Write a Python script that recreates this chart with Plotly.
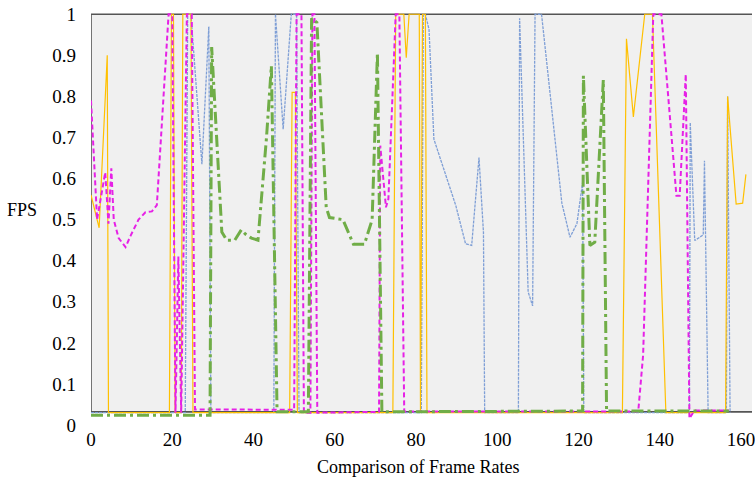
import plotly.graph_objects as go

# Frame index / normalised FPS breakpoints for each capture method
frames_blue = [0, 23.2, 23.8, 24.6, 27.3, 29.0, 29.5, 45.0, 45.4, 47.3, 49.3, 50.6, 51.2,
               81.3, 81.8, 82.3, 83.2, 84.4, 89.8, 92.2, 93.7, 95.5, 96.6, 96.9,
               105.2, 105.5, 107.6, 108.7, 109.3, 110.9, 115.9, 117.9, 119.6, 121.0, 121.3,
               147.3, 147.5, 148.6, 150.7, 151.0, 151.9, 156.4, 156.7, 157.3]
fps_blue = [0.03, 0.03, 1.0, 1.0, 0.635, 0.97, 0.03, 0.03, 1.0, 0.72, 1.0, 1.0, 0.03,
            0.03, 1.0, 1.0, 0.963, 0.696, 0.534, 0.441, 0.437, 0.651, 0.469, 0.03,
            0.03, 0.99, 0.324, 0.29, 1.0, 1.0, 0.54, 0.457, 0.49, 0.59, 0.03,
            0.03, 0.736, 0.449, 0.463, 0.643, 0.03, 0.03, 0.80, 0.03]

frames_orange = [0, 2.0, 4.0, 4.3, 19.3, 19.8, 20.3, 20.7, 22.2, 22.6, 24.6, 25.1,
                 48.9, 49.5, 50.3, 50.8, 74.3, 75.0, 77.0, 77.6, 78.3, 80.8, 81.1, 81.6, 82.3, 82.7,
                 130.8, 131.8, 133.5, 135.5, 136.3, 138.2, 141.5, 156.2, 156.7, 158.8, 160.4, 161.2]
fps_orange = [0.56, 0.48, 0.90, 0.03, 0.03, 1.0, 1.0, 0.03, 0.03, 1.0, 1.0, 0.03,
              0.03, 0.81, 0.81, 0.03, 0.03, 1.0, 1.0, 0.894, 1.0, 1.0, 0.03, 1.0, 1.0, 0.03,
              0.03, 0.94, 0.75, 0.93, 1.0, 1.0, 0.03, 0.03, 0.80, 0.538, 0.54, 0.61]

frames_magenta = [0, 1.5, 3.5, 4.3, 5.0, 5.6, 6.8, 8.5, 9.7, 11.7, 13.4, 15.0, 16.2, 19.1, 20.0,
                  20.8, 21.5, 22.2, 23.6, 24.8, 25.6, 50.0, 50.6, 51.8, 52.4, 54.0, 54.5, 55.0, 55.7,
                  70.9, 71.2, 72.6, 73.2, 75.0, 75.9, 77.1, 134.7, 135.9, 138.4, 140.4,
                  144.1, 144.9, 146.4, 147.3, 148.5, 157.0]
fps_magenta = [0.79, 0.50, 0.615, 0.49, 0.625, 0.50, 0.455, 0.433, 0.46, 0.50, 0.518, 0.52, 0.535, 1.0, 1.0,
               0.03, 0.41, 0.03, 1.0, 1.0, 0.038, 0.037, 1.0, 1.0, 0.03, 0.03, 1.0, 1.0, 0.03,
               0.032, 0.68, 0.53, 0.55, 1.0, 1.0, 0.033, 0.033, 0.17, 1.0, 1.0,
               0.558, 0.558, 0.854, 0.016, 0.035, 0.035]

frames_green = [0, 29.3, 29.7, 32.2, 33.4, 35.4, 37.0, 38.0, 39.5, 41.1, 43.2, 44.4, 45.8,
                53.5, 54.3, 55.6, 57.9, 58.7, 62.0, 64.6, 67.3, 69.2, 70.5, 71.6,
                121.0, 121.2, 122.8, 124.0, 126.1, 126.9, 157.0]
fps_green = [0.024, 0.024, 0.92, 0.47, 0.45, 0.45, 0.475, 0.465, 0.455, 0.45, 0.70, 0.874, 0.032,
             0.032, 0.99, 0.98, 0.53, 0.505, 0.50, 0.44, 0.44, 0.50, 0.906, 0.032,
             0.034, 0.85, 0.437, 0.445, 0.84, 0.034, 0.034]

y_ticks = [0, 0.1, 0.2, 0.3, 0.4, 0.5, 0.6, 0.7, 0.8, 0.9, 1]
y_tick_text = ["0", "0.1", "0.2", "0.3", "0.4", "0.5", "0.6", "0.7", "0.8", "0.9", "1"]
x_ticks = [0, 20, 40, 60, 80, 100, 120, 140, 160]

X_MAX = 162.7
FLOOR = 0.032
FRAME_COLOR = "#555555"
FONT = "Liberation Serif, Times New Roman, serif"

series = [
    (frames_blue, fps_blue, "#7f9fd6", 1.3, "3px,1px"),
    (frames_orange, fps_orange, "#ffc000", 1.2, "solid"),
    (frames_magenta, fps_magenta, "#e621e6", 2, "5px,3px"),
    (frames_green, fps_green, "#70ad47", 3, "12px,4px,3px,4px"),
]

fig = go.Figure()
for xs, ys, color, width, dash in series:
    fig.add_trace(go.Scatter(x=xs, y=ys, mode="lines",
                             line=dict(color=color, width=width, dash=dash),
                             showlegend=False, hoverinfo="skip"))

# grey plotting panel and its frame
fig.add_shape(type="rect", xref="x", yref="y", x0=0, x1=X_MAX, y0=FLOOR, y1=1.0,
              fillcolor="#f0f0f0", line=dict(width=0), layer="below")
for x0, y0, x1, y1 in [(0, 1.0, X_MAX, 1.0), (0, FLOOR, X_MAX, FLOOR), (0, FLOOR, 0, 1.0)]:
    fig.add_shape(type="line", xref="x", yref="y", x0=x0, y0=y0, x1=x1, y1=y1,
                  line=dict(color=FRAME_COLOR, width=1.6), layer="below")

fig.add_annotation(text="FPS", xref="paper", yref="paper", x=-0.104, y=0.522,
                   xanchor="center", yanchor="middle", showarrow=False,
                   font=dict(family=FONT, size=18, color="#000000"))
fig.add_annotation(text="Comparison of Frame Rates", xref="paper", yref="paper",
                   x=0.495, y=-0.102, showarrow=False, xanchor="center", yanchor="middle",
                   font=dict(family=FONT, size=18, color="#000000"))

fig.update_layout(
    width=755, height=484,
    margin=dict(l=91, r=0, t=13, b=59),
    paper_bgcolor="#ffffff", plot_bgcolor="#ffffff",
    font=dict(family=FONT, size=19, color="#000000"),
    xaxis=dict(range=[0, X_MAX], tickvals=x_ticks, showgrid=False, zeroline=False,
               showline=False, ticks="", ticklabelstandoff=1, ticklabeloverflow="allow"),
    yaxis=dict(range=[0, 1.003], tickvals=y_ticks, ticktext=y_tick_text, showgrid=False,
               zeroline=False, showline=False, ticks="", ticklabelstandoff=14),
)

fig.write_html("out.html")
